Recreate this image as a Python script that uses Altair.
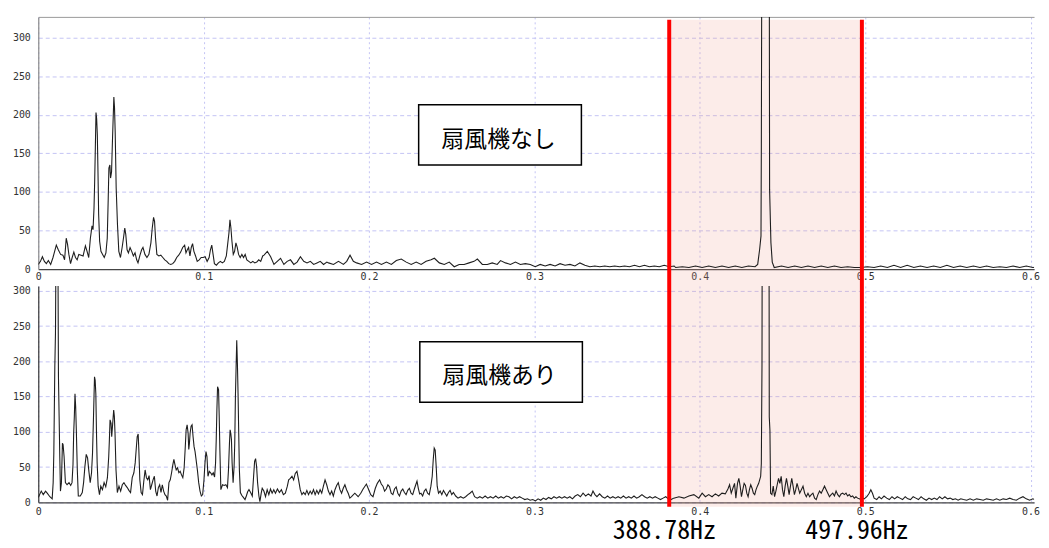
import altair as alt
import pandas as pd

# ---------------- data ----------------
top_freq = [
    0.0000,0.0013,0.0025,0.0037,0.0049,0.0061,0.0075,0.0089,0.0109,0.0121,
    0.0135,0.0149,0.0159,0.0169,0.0177,0.0185,0.0195,0.0205,0.0215,0.0225,
    0.0235,0.0245,0.0259,0.0271,0.0285,0.0295,0.0305,0.0315,0.0325,0.0331,
    0.0337,0.0341,0.0345,0.0349,0.0353,0.0357,0.0361,0.0365,0.0371,0.0379,
    0.0389,0.0399,0.0409,0.0417,0.0423,0.0427,0.0433,0.0437,0.0443,0.0449,
    0.0457,0.0461,0.0465,0.0471,0.0479,0.0487,0.0497,0.0507,0.0515,0.0523,
    0.0529,0.0537,0.0545,0.0555,0.0565,0.0575,0.0585,0.0595,0.0603,0.0615,
    0.0625,0.0633,0.0645,0.0657,0.0669,0.0681,0.0689,0.0697,0.0703,0.0709,
    0.0717,0.0729,0.0741,0.0753,0.0765,0.0777,0.0789,0.0801,0.0813,0.0825,
    0.0837,0.0849,0.0861,0.0873,0.0885,0.0893,0.0901,0.0909,0.0917,0.0925,
    0.0933,0.0941,0.0951,0.0961,0.0973,0.0985,0.0997,0.1009,0.1021,0.1033,
    0.1041,0.1049,0.1057,0.1065,0.1077,0.1089,0.1101,0.1113,0.1125,0.1137,
    0.1145,0.1153,0.1159,0.1165,0.1171,0.1179,0.1187,0.1195,0.1203,0.1211,
    0.1221,0.1231,0.1241,0.1251,0.1261,0.1273,0.1285,0.1297,0.1309,0.1321,
    0.1333,0.1345,0.1357,
    0.1365,0.1385,0.1405,0.1425,0.1445,0.1465,0.1485,0.1505,0.1525,0.1545,
    0.1565,0.1585,0.1605,0.1625,0.1645,0.1665,0.1685,0.1705,0.1725,0.1745,
    0.1755,0.1785,0.1815,0.1845,0.1865,0.1885,0.1905,0.1925,0.1955,0.1985,
    0.2015,0.2045,0.2075,0.2105,0.2135,0.2165,0.2195,0.2225,0.2255,0.2285,
    0.2315,0.2345,0.2375,0.2395,0.2425,0.2455,0.2485,0.2515,0.2545,0.2575,
    0.2605,0.2635,0.2655,0.2685,0.2715,0.2745,0.2775,0.2795,0.2825,0.2855,
    0.2885,0.2915,0.2945,0.2975,0.3005,0.3035,0.3065,0.3095,0.3125,0.3155,
    0.3185,0.3215,0.3245,0.3275,0.3305,0.3335,0.3365,0.3395,0.3425,0.3455,
    0.3485,0.3515,0.3545,0.3575,0.3605,0.3635,0.3665,0.3695,0.3725,0.3755,
    0.3785,0.3815,0.3845,
    0.3854,0.3894,0.3934,0.3974,0.4014,0.4054,0.4094,0.4134,0.4174,0.4214,
    0.4254,0.4294,0.4334,0.4350,0.4362,0.4370,0.4372,0.4378,0.4418,0.4422,
    0.4430,0.4438,0.4450,0.4494,0.4534,0.4574,0.4614,0.4654,0.4694,0.4734,
    0.4774,0.4814,0.4854,0.4894,0.4934,0.4974,0.5014,0.5054,0.5094,0.5134,
    0.5174,0.5214,0.5254,0.5294,0.5334,0.5374,0.5414,0.5454,0.5494,0.5534,
    0.5574,0.5614,0.5654,0.5694,0.5734,0.5774,0.5814,0.5854,0.5894,0.5934,
    0.5974,0.6014,0.6054,0.6068,
]
top_amp = [
    6,10,16,10,7,11,6,15,31,25,
    19,18,12,40,32,19,7,15,22,15,
    12,19,18,17,30,23,15,40,56,51,
    79,114,157,203,195,174,126,71,36,23,
    19,15,21,40,92,131,135,118,126,170,
    223,209,178,105,57,23,15,28,40,53,
    45,25,21,28,23,17,21,12,8,18,
    25,28,19,15,19,34,53,67,62,40,
    19,17,18,15,12,10,7,6,7,10,
    15,18,22,28,31,21,25,28,17,28,
    33,23,17,10,12,15,15,16,10,15,
    25,31,19,7,5,8,10,8,10,17,
    32,47,64,53,36,19,23,34,28,19,
    15,19,15,19,12,10,8,10,8,9,
    12,10,17,
    18,23,16,6,10,14,6,10,12,6,
    9,16,10,8,10,6,8,10,6,9,
    8,6,10,6,10,18,10,8,6,9,
    6,9,6,9,6,11,13,9,6,9,
    6,10,12,14,8,6,9,3,6,6,
    8,10,13,6,6,8,6,11,8,6,
    9,6,7,6,3,6,4,6,4,7,
    5,6,4,8,5,3,4,3,4,3,
    4,3,4,3,5,3,5,3,4,3,
    5,3,4,
    2,3,2,4,2,4,2,4,2,4,
    2,4,3,6,26,43,157,700,700,103,
    34,9,2,4,2,4,2,4,2,4,
    2,4,2,3,2,2,3,2,4,2,
    5,2,5,2,4,2,4,2,5,2,
    4,2,4,2,4,2,3,2,4,2,
    4,2,3,2,
]

bot_freq = [
    0.0000,0.0008,0.0018,0.0030,0.0044,0.0054,0.0070,0.0084,0.0090,0.0094,
    0.0100,0.0104,0.0108,0.0118,0.0122,0.0126,0.0130,0.0134,0.0140,0.0146,
    0.0150,0.0156,0.0164,0.0174,0.0186,0.0196,0.0204,0.0210,0.0214,0.0218,
    0.0222,0.0226,0.0230,0.0236,0.0242,0.0254,0.0266,0.0274,0.0282,0.0290,
    0.0298,0.0306,0.0314,0.0322,0.0328,0.0334,0.0340,0.0344,0.0348,0.0352,
    0.0356,0.0362,0.0370,0.0378,0.0388,0.0398,0.0408,0.0418,0.0426,0.0430,
    0.0434,0.0440,0.0444,0.0450,0.0456,0.0460,0.0464,0.0470,0.0478,0.0488,
    0.0498,0.0508,0.0518,0.0528,0.0538,0.0548,0.0558,0.0568,0.0578,0.0586,
    0.0592,0.0598,0.0604,0.0608,0.0614,0.0622,0.0630,0.0638,0.0646,0.0654,
    0.0662,0.0670,0.0678,0.0686,0.0694,0.0702,0.0710,0.0718,0.0726,0.0734,
    0.0742,0.0750,0.0758,0.0766,0.0774,0.0782,0.0790,0.0798,0.0806,0.0814,
    0.0820,0.0826,0.0834,0.0842,0.0850,0.0858,0.0866,0.0874,0.0882,0.0888,
    0.0894,0.0900,0.0906,0.0910,0.0914,0.0918,0.0924,0.0930,0.0936,0.0942,
    0.0948,0.0954,0.0962,0.0970,0.0978,0.0986,0.0994,0.1002,0.1008,0.1014,
    0.1020,0.1026,0.1034,0.1042,0.1050,0.1058,0.1066,0.1072,0.1076,0.1080,
    0.1084,0.1090,0.1094,0.1098,0.1104,0.1114,0.1124,0.1134,0.1144,0.1150,
    0.1156,0.1160,0.1164,0.1168,0.1172,0.1178,0.1184,0.1188,0.1192,0.1196,
    0.1200,0.1204,0.1208,0.1212,0.1216,0.1222,0.1230,0.1240,0.1250,0.1258,
    0.1266,0.1274,0.1284,0.1294,0.1302,0.1308,0.1314,0.1320,0.1326,0.1334,
    0.1340,0.1348,0.1354,0.1364,0.1374,0.1384,0.1394,0.1404,0.1414,0.1424,
    0.1434,0.1446,0.1458,0.1470,0.1482,0.1494,0.1506,0.1514,0.1524,0.1534,
    0.1544,0.1554,0.1564,0.1574,0.1584,0.1594,0.1604,0.1614,0.1624,0.1634,
    0.1644,0.1654,0.1664,0.1674,0.1684,0.1694,0.1704,0.1714,0.1724,0.1734,
    0.1744,0.1754,0.1764,0.1774,0.1784,0.1794,0.1804,0.1814,0.1824,0.1834,
    0.1844,0.1854,0.1864,0.1874,0.1884,
    0.1894,0.1914,0.1934,0.1950,0.1964,0.1984,0.1998,0.2010,0.2024,0.2038,
    0.2050,0.2064,0.2074,0.2084,0.2094,0.2104,0.2114,0.2124,0.2134,0.2144,
    0.2154,0.2164,0.2174,0.2184,0.2194,0.2204,0.2214,0.2224,0.2234,0.2244,
    0.2254,0.2264,0.2274,0.2284,0.2290,0.2298,0.2306,0.2314,0.2324,0.2334,
    0.2344,0.2354,0.2364,0.2374,0.2382,0.2388,0.2394,0.2400,0.2406,0.2412,
    0.2420,0.2430,0.2440,0.2450,0.2460,0.2470,0.2480,0.2490,0.2500,0.2510,
    0.2524,0.2538,0.2554,0.2570,0.2584,0.2598,0.2610,0.2624,0.2638,0.2654,
    0.2670,0.2686,0.2702,0.2718,0.2734,0.2750,0.2766,0.2782,0.2798,0.2814,
    0.2830,0.2846,0.2862,0.2878,0.2894,0.2910,0.2926,0.2942,0.2958,0.2974,
    0.2990,0.3006,0.3022,0.3038,0.3054,0.3070,0.3086,0.3102,0.3118,0.3134,
    0.3150,0.3166,0.3182,0.3198,0.3214,0.3230,0.3246,0.3262,0.3278,0.3294,
    0.3310,0.3326,0.3342,0.3354,0.3366,0.3378,0.3394,0.3410,0.3426,0.3442,
    0.3458,0.3474,0.3490,0.3506,0.3522,0.3538,0.3554,0.3570,0.3586,0.3602,
    0.3618,0.3634,0.3650,0.3666,0.3682,0.3698,0.3714,0.3730,0.3746,0.3762,
    0.3778,0.3794,0.3810,0.3826,0.3842,
    0.3874,0.3904,0.3934,0.3964,0.3994,0.4014,0.4034,0.4054,0.4074,0.4094,
    0.4114,0.4134,0.4154,0.4170,0.4180,0.4190,0.4200,0.4210,0.4218,0.4228,
    0.4236,0.4244,0.4252,0.4260,0.4268,0.4276,0.4284,0.4292,0.4300,0.4308,
    0.4316,0.4324,0.4332,0.4340,0.4348,0.4356,0.4362,0.4368,0.4372,0.4376,
    0.4378,0.4418,0.4420,0.4424,0.4428,0.4436,0.4444,0.4452,0.4460,0.4468,
    0.4476,0.4484,0.4492,0.4500,0.4508,0.4516,0.4524,0.4532,0.4540,0.4548,
    0.4556,0.4564,0.4572,0.4580,0.4588,0.4596,0.4604,0.4614,0.4624,0.4634,
    0.4644,0.4654,0.4664,0.4674,0.4684,0.4694,0.4704,0.4714,0.4724,0.4734,
    0.4744,0.4754,0.4764,0.4774,0.4784,0.4794,0.4804,0.4814,0.4824,0.4834,
    0.4844,0.4854,0.4864,0.4874,0.4884,0.4894,0.4904,0.4914,0.4924,0.4934,
    0.4944,0.4954,0.4964,0.4974,0.4984,0.4994,0.5010,0.5024,0.5034,0.5044,
    0.5054,0.5070,0.5084,0.5098,0.5114,0.5130,0.5146,0.5162,0.5178,0.5194,
    0.5210,0.5226,0.5242,0.5258,0.5274,0.5290,0.5306,0.5322,0.5338,0.5354,
    0.5370,0.5386,0.5402,0.5418,0.5434,0.5450,0.5466,0.5482,0.5498,0.5514,
    0.5530,0.5546,0.5562,0.5578,0.5594,0.5614,0.5634,0.5654,0.5674,0.5694,
    0.5714,0.5734,0.5754,0.5774,0.5794,0.5814,0.5834,0.5854,0.5874,0.5894,
    0.5914,0.5934,0.5954,0.5974,0.5994,0.6014,0.6034,0.6064,0.6088,
]
bot_amp = [
    7,11,16,11,16,13,8,5,28,70,
    192,241,400,400,178,122,65,16,28,84,
    82,65,28,25,28,24,28,54,98,122,
    154,136,103,46,9,9,14,28,51,68,
    63,44,28,42,70,122,178,173,154,98,
    56,23,11,23,18,28,22,35,65,89,
    117,112,93,112,131,122,98,46,14,23,
    16,25,28,24,21,17,14,35,42,56,
    75,93,97,75,32,14,11,30,46,35,
    32,38,18,25,32,37,16,9,21,25,
    14,25,16,11,9,3,28,32,42,54,
    61,54,46,49,42,44,39,35,49,75,
    103,110,98,75,84,98,108,110,93,79,
    72,61,46,28,16,9,11,32,56,72,
    65,37,44,42,39,42,36,56,89,131,
    164,160,122,75,18,25,24,25,21,46,
    84,103,98,89,56,28,51,84,150,190,
    230,197,154,98,46,14,10,7,4,9,
    15,18,14,9,37,58,62,51,28,9,
    1,13,20,16,8,18,11,19,13,18,
    13,19,14,18,11,13,23,32,34,37,
    32,41,44,32,18,11,14,11,17,11,
    16,12,18,11,17,12,18,13,23,32,
    25,16,11,16,9,18,24,28,18,13,
    20,25,18,13,6,
    8,13,8,13,19,26,18,11,8,20,
    27,32,26,23,16,19,25,22,13,11,
    19,22,13,9,16,19,14,11,17,20,
    13,11,19,26,30,20,12,13,9,16,
    19,13,11,23,37,60,77,74,51,23,
    13,16,11,17,13,9,14,17,11,14,
    9,6,8,6,8,11,13,16,8,6,
    8,6,9,6,8,6,9,6,8,6,
    9,8,5,8,6,8,6,4,5,3,
    4,2,5,3,6,4,7,5,8,6,
    8,6,8,6,8,5,9,11,8,13,
    9,12,9,16,11,8,12,8,6,9,
    6,8,6,8,6,9,6,8,6,9,
    6,8,11,8,6,8,6,8,6,4,
    6,8,5,4,6,
    8,6,9,11,6,13,8,11,8,12,
    9,13,12,19,25,13,20,27,6,27,
    34,23,8,18,27,24,13,8,18,25,
    20,13,11,18,23,27,32,37,55,196,
    500,500,121,102,13,11,23,8,16,25,
    34,27,37,18,8,23,34,23,11,23,
    34,23,11,18,27,20,13,18,23,13,
    8,13,8,11,13,6,4,11,16,13,
    18,23,18,13,8,11,13,9,16,11,
    8,12,13,11,13,9,11,8,9,6,
    8,6,5,4,6,5,8,13,18,13,
    6,4,8,5,9,6,4,8,5,8,
    6,4,8,5,4,8,6,4,8,5,
    3,6,4,6,4,8,5,8,5,6,
    4,5,3,5,4,3,5,3,5,4,
    3,5,4,3,5,3,5,4,6,4,
    3,6,8,5,3,5,3,4,3,
]

band_edges = [0.3815, 0.498]
band_labels = ["388.78Hz", "497.96Hz"]
notes = ["扇風機なし", "扇風機あり"]
x_ticks = [0, 0.1, 0.2, 0.3, 0.4, 0.5, 0.6]
y_ticks = [0, 50, 100, 150, 200, 250, 300]

# ---------------- layout / style ----------------
W = 1003                      # whole chart must fit the 1033px body width
X_MAX = 0.6021                # keeps ~1666 px per unit as in the reference
H_TOP, H_BOT = 254, 218
Y_TOP_MAX, Y_BOT_MAX = 327, 307
GAP = 17
MONO = "DejaVu Sans Mono"
CJK = "Noto Sans CJK JP"
NUM_FONT = "Liberation Sans Narrow, Noto Sans Mono CJK JP, DejaVu Sans Condensed, sans-serif"
GRID = "#c4c4f4"

# annotation boxes in data units: x0, x1, y0, y1 and text centre
top_box = dict(x0=0.2300, x1=0.3284, y0=135, y1=213, tx=0.2783, ty=167.5)
bot_box = dict(x0=0.2307, x1=0.3290, y0=142, y1=228, tx=0.2789, ty=178.7)

xscale = alt.Scale(domain=[0, X_MAX], nice=False, zero=False)


def xaxis(pad):
    return alt.Axis(values=x_ticks, grid=True, gridColor=GRID, gridDash=[2, 3],
                    gridWidth=1, ticks=False, labelPadding=pad, labelFont=MONO,
                    labelFontSize=10, labelColor="#333", domainColor="#444",
                    domainWidth=1.2, labelFlush=False, labelOverlap=False,
                    labelExpr="datum.value == 0 ? '0' : format(datum.value, '.1f')",
                    title=None)


top_frame_axis = alt.Axis(orient="top", labels=False, ticks=False, grid=False,
                          domainColor="#999", domainWidth=1, title=None)


def yaxis(dom_color):
    return alt.Axis(values=y_ticks, grid=True, gridColor=GRID, gridDash=[4, 3],
                    gridWidth=1, ticks=False, labelPadding=8, labelFont=MONO,
                    labelFontSize=10, labelColor="#333", domainColor=dom_color,
                    domainWidth=1.2, title=None)


def panel(freq, amp, ymax, height, note, box, band_top, band_bottom, xpad,
          ydom, frame=False, labels=False):
    ysc = alt.Scale(domain=[0, ymax], nice=False, zero=False)
    xa = xaxis(xpad)
    ya = yaxis(ydom)

    def X(f, axis=None):
        return alt.X(f, type="quantitative", scale=xscale, axis=axis)

    def Y(f):
        return alt.Y(f, type="quantitative", scale=ysc, axis=ya)

    edges = pd.DataFrame({"edge": band_edges, "label": band_labels})
    band_df = pd.DataFrame({"lo": [band_edges[0]], "hi": [band_edges[1]]})
    spec_df = pd.DataFrame({"f": freq, "a": amp})
    box_df = pd.DataFrame({"x0": [box["x0"]], "x1": [box["x1"]],
                           "y0": [box["y0"]], "y1": [box["y1"]],
                           "tx": [box["tx"]], "ty": [box["ty"]], "t": [note]})

    band = alt.Chart(band_df).mark_rect(color="#f0a090", opacity=0.2).encode(
        x=X("lo", top_frame_axis if frame else None), x2="hi",
        y=alt.value(band_top), y2=alt.value(height + band_bottom))
    line = alt.Chart(spec_df).mark_line(clip=True, color="#1e1e1e", strokeWidth=1.1).encode(
        x=X("f", xa), y=Y("a"))
    rules = alt.Chart(edges).mark_rule(color="#ff0000", strokeWidth=4).encode(
        x=X("edge"), y=alt.value(band_top), y2=alt.value(height + band_bottom))
    rect = alt.Chart(box_df).mark_rect(fill="white", stroke="black", strokeWidth=1.5).encode(
        x=X("x0"), x2="x1", y=Y("y0"), y2="y1")
    txt = alt.Chart(box_df).mark_text(font=CJK, fontSize=23, color="black",
                                       baseline="middle", align="center").encode(
        x=X("tx"), y=Y("ty"), text="t:N")
    layers = [band, line, rules, rect, txt]
    if labels:
        lab = alt.Chart(edges).mark_text(font=NUM_FONT, fontSize=26, color="black",
                                          baseline="alphabetic", align="center",
                                          dx=-5).encode(
            x=X("edge"), y=alt.value(height + 37), text="label:N")
        layers.append(lab)
    return alt.layer(*layers).resolve_axis(x="independent")


top = panel(top_freq, top_amp, Y_TOP_MAX, H_TOP, notes[0], top_box, 3, GAP, 3,
            "#888", frame=True).properties(width=W, height=H_TOP)
bot = panel(bot_freq, bot_amp, Y_BOT_MAX, H_BOT, notes[1], bot_box, 0, 4.5, 4,
            "#333", labels=True).properties(width=W, height=H_BOT)

chart = alt.vconcat(top, bot, spacing=GAP, bounds="flush").properties(
    padding={"left": 3.5, "top": 6, "right": 0, "bottom": 0}
).configure(background="white").configure_view(stroke="transparent")

chart.save("out.html", embed_options={"renderer": "svg", "actions": False})
